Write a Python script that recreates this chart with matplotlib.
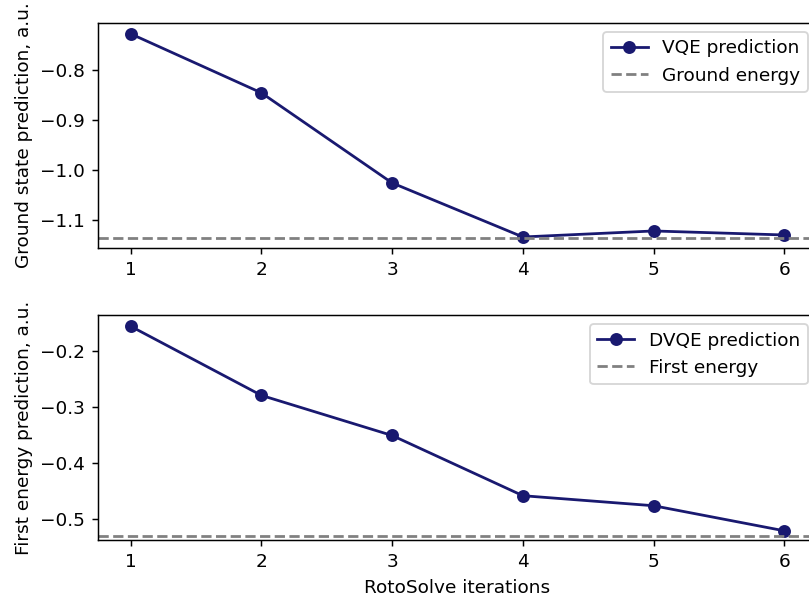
import matplotlib
matplotlib.use("Agg")
from matplotlib import pyplot as plt

# dati
iterazioni = [1, 2, 3, 4, 5, 6]
vqe = [-0.728, -0.846, -1.026, -1.134, -1.122, -1.130]
dvqe = [-0.155, -0.279, -0.351, -0.459, -0.477, -0.522]
ground_energy = -1.136
first_energy = -0.531

DPI = 133
fig = plt.figure(figsize=(809 / DPI, 599 / DPI), dpi=DPI)
# gli assi escono leggermente a destra, come nell'originale
ax1 = fig.add_axes([0.121, 0.586, 0.889, 0.376])
ax2 = fig.add_axes([0.121, 0.098, 0.889, 0.376])

ax1.plot(iterazioni, vqe, "o-", color="midnightblue", label="VQE prediction")
ax1.axhline(ground_energy, color="gray", linestyle="--", label="Ground energy")
ax1.set_ylim(-1.156, -0.706)
ax1.set_ylabel("Ground state prediction, a.u.")
ax1.legend(loc="upper right")

ax2.plot(iterazioni, dvqe, "o-", color="midnightblue", label="DVQE prediction")
ax2.axhline(first_energy, color="gray", linestyle="--", label="First energy")
ax2.set_ylim(-0.539, -0.135)
ax2.set_ylabel("First energy prediction, a.u.")
ax2.set_xlabel("RotoSolve iterations")
ax2.legend(loc="upper right")

for ax in (ax1, ax2):
    ax.set_xlim(0.75, 6.25)
    ax.set_xticks(iterazioni)

fig.savefig("out.png", dpi=DPI)
